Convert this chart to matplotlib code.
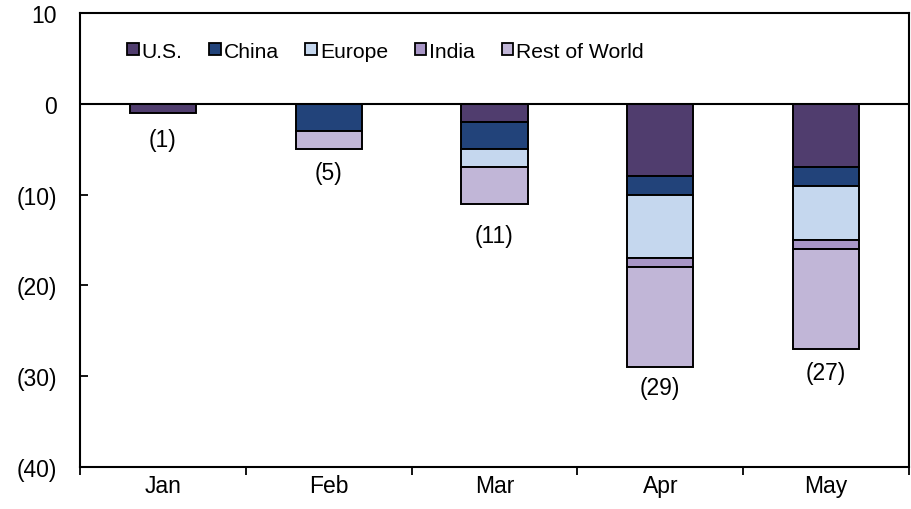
import matplotlib
matplotlib.use("Agg")
import matplotlib.pyplot as plt
from matplotlib.patches import Patch
import numpy as np

months = ["Jan", "Feb", "Mar", "Apr", "May"]
regions = ["U.S.", "China", "Europe", "India", "Rest of World"]
us = [-1, 0, -2, -8, -7]
china = [0, -3, -3, -2, -2]
europe = [0, 0, -2, -7, -6]
india = [0, 0, 0, -1, -1]
rest_of_world = [0, -2, -4, -11, -11]
yticks = [10, 0, -10, -20, -30, -40]
ytick_labels = ["10", "0", "(10)", "(20)", "(30)", "(40)"]

colors = ["#503D6E", "#22437A", "#C5D7EE", "#A896C6", "#C1B6D7"]
series = [us, china, europe, india, rest_of_world]

plt.rcParams["font.family"] = ["Liberation Sans", "DejaVu Sans"]
FS = 16.5

fig = plt.figure(figsize=(9.12, 5.10), dpi=100)
ax = fig.add_axes([80 / 912, 1 - 468 / 510, 829 / 912, 454 / 510])

x = np.arange(len(months))
bottom = np.zeros(len(months))
for vals, col, name in zip(series, colors, regions):
    v = np.array(vals, dtype=float)
    mask = v != 0
    ax.bar(x[mask], v[mask], width=0.4, bottom=bottom[mask], color=col,
           edgecolor="black", linewidth=1.4, zorder=3)
    bottom += v

totals = bottom
label_offsets = [27, 23, 32, 20, 24]  # pixels below the bar end
for xi, tot, off in zip(x, totals, label_offsets):
    ax.annotate(f"({abs(tot):.0f})", xy=(xi, tot), xytext=(0, -off),
                textcoords="offset pixels", ha="center", va="center",
                fontsize=FS)

ax.axhline(0, color="black", linewidth=1.5, zorder=4)

ax.set_xlim(-0.5, len(months) - 0.5)
ax.set_ylim(-40, 10)
ax.set_yticks(yticks)
ax.set_yticklabels(ytick_labels)
ax.set_xticks(x)
ax.set_xticklabels(months)
ax.set_xticks(np.arange(-0.5, len(months)), minor=True)
ax.tick_params(axis="x", which="major", length=0, pad=5, labelsize=FS)
ax.tick_params(axis="x", which="minor", length=6, width=1.3, direction="out")
ax.tick_params(axis="y", which="major", length=6, width=1.3, direction="in",
               pad=16.5, labelsize=FS)

for s in ax.spines.values():
    s.set_linewidth(1.5)
    s.set_color("black")

handles = [Patch(facecolor=c, edgecolor="black", linewidth=1.3) for c in colors]
ax.legend(handles, regions, loc="center left", ncol=5, frameon=False,
          bbox_to_anchor=(127 / 912, 1 - 52 / 510), bbox_transform=fig.transFigure,
          fontsize=15.2, handlelength=0.55, handleheight=0.55, handletextpad=0.15,
          columnspacing=1.25, borderaxespad=0, borderpad=0)

fig.savefig("out.png", dpi=100)
